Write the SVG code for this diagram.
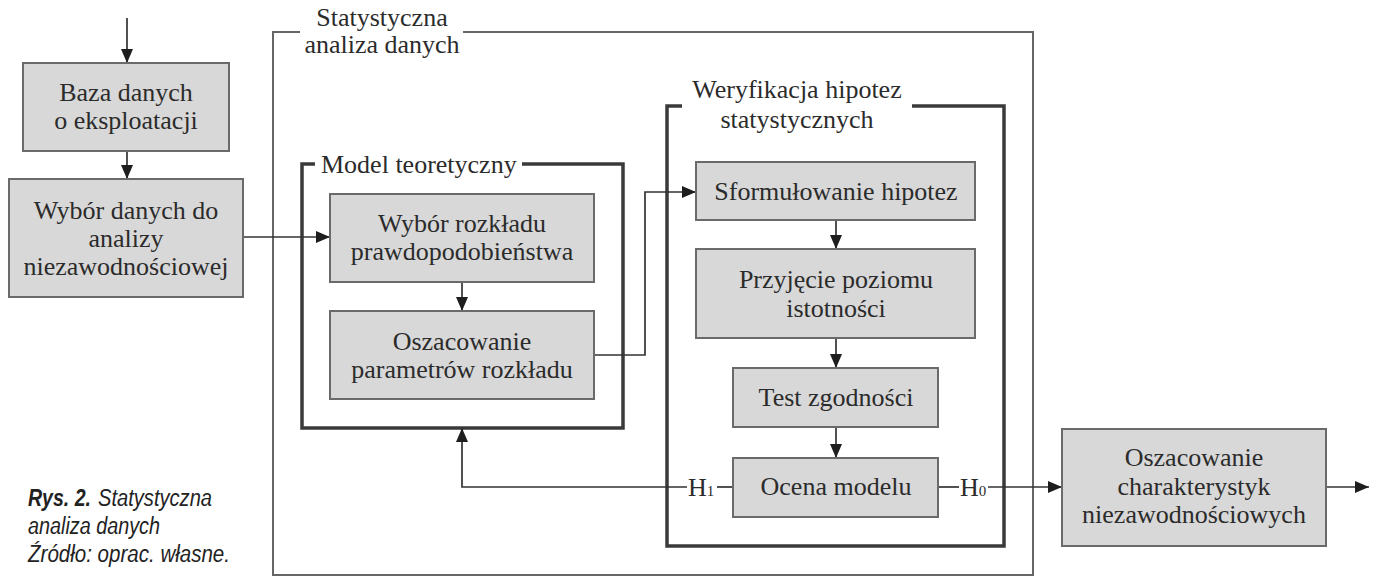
<svg xmlns="http://www.w3.org/2000/svg" width="1374" height="576" viewBox="0 0 1374 576">
<style>
.box{fill:#d8d8d8;stroke:#6a6a6a;stroke-width:2}
.t{font-family:"Liberation Serif","Times New Roman",serif;font-size:26px;fill:#2b2b2b;text-anchor:middle}
.lbl{font-family:"Liberation Serif","Times New Roman",serif;font-size:26px;fill:#2b2b2b}
.frame-outer{fill:none;stroke:#666;stroke-width:2}
.frame{fill:none;stroke:#3a3a3a;stroke-width:3.5}
.c{fill:none;stroke:#333;stroke-width:1.7}
.cap{font-family:"Liberation Sans",Arial,sans-serif;font-style:italic;font-size:23px;fill:#222}
</style>
<defs>
<marker id="ah" markerUnits="userSpaceOnUse" markerWidth="14" markerHeight="12" refX="14" refY="6" orient="auto">
<path d="M0,0 L14,6 L0,12 z" fill="#1e1e1e"/>
</marker>
</defs>
<rect width="1374" height="576" fill="#fff"/>

<g id="frame-statystyczna">
<path class="frame-outer" d="M300,32 H273 V575 H1033 V32 H463"/>
<text class="t" x="382" y="26">Statystyczna</text>
<text class="t" x="382" y="53">analiza danych</text>
</g>
<g id="frame-model">
<path class="frame" d="M315,164 H302 V428 H623 V164 H522"/>
<text class="lbl" x="321" y="173">Model teoretyczny</text>
</g>
<g id="frame-weryfikacja">
<path class="frame" d="M682,106 H667 V546 H1004 V106 H912"/>
<text class="t" x="797" y="98">Weryfikacja hipotez</text>
<text class="t" x="797" y="128">statystycznych</text>
</g>

<g id="connectors">
<line class="c" x1="127" y1="18" x2="127" y2="63" marker-end="url(#ah)"/>
<line class="c" x1="127" y1="151" x2="127" y2="179" marker-end="url(#ah)"/>
<line class="c" x1="243" y1="237" x2="330" y2="237" marker-end="url(#ah)"/>
<line class="c" x1="462" y1="282" x2="462" y2="311" marker-end="url(#ah)"/>
<path class="c" d="M594,355 H645 V192 H696" marker-end="url(#ah)"/>
<line class="c" x1="836" y1="220" x2="836" y2="249" marker-end="url(#ah)"/>
<line class="c" x1="836" y1="338" x2="836" y2="368" marker-end="url(#ah)"/>
<line class="c" x1="836" y1="427" x2="836" y2="458" marker-end="url(#ah)"/>
<line class="c" x1="733" y1="487" x2="717" y2="487"/>
<path class="c" d="M687,487 H462 V428" marker-end="url(#ah)"/>
<line class="c" x1="938" y1="487" x2="959" y2="487"/>
<line class="c" x1="988" y1="487" x2="1062" y2="487" marker-end="url(#ah)"/>
<line class="c" x1="1326" y1="487" x2="1369" y2="487" marker-end="url(#ah)"/>
<text class="lbl" x="688" y="496">H<tspan font-size="15">1</tspan></text>
<text class="lbl" x="960" y="496">H<tspan font-size="15">0</tspan></text>
</g>

<g id="baza">
<rect class="box" x="23" y="63" width="206" height="88"/>
<text class="t" x="126" y="101">Baza danych</text>
<text class="t" x="126" y="129">o eksploatacji</text>
</g>
<g id="wybor-danych">
<rect class="box" x="9" y="179" width="234" height="118"/>
<text class="t" x="126" y="219">Wybór danych do</text>
<text class="t" x="126" y="247">analizy</text>
<text class="t" x="126" y="275">niezawodnościowej</text>
</g>
<g id="wybor-rozkladu">
<rect class="box" x="330" y="194" width="264" height="88"/>
<text class="t" x="462" y="232">Wybór rozkładu</text>
<text class="t" x="462" y="260">prawdopodobieństwa</text>
</g>
<g id="oszacowanie-parametrow">
<rect class="box" x="330" y="311" width="264" height="88"/>
<text class="t" x="462" y="350">Oszacowanie</text>
<text class="t" x="462" y="378">parametrów rozkładu</text>
</g>
<g id="sformulowanie">
<rect class="box" x="696" y="162" width="279" height="58"/>
<text class="t" x="836" y="200">Sformułowanie hipotez</text>
</g>
<g id="przyjecie">
<rect class="box" x="696" y="249" width="279" height="89"/>
<text class="t" x="836" y="288">Przyjęcie poziomu</text>
<text class="t" x="836" y="317">istotności</text>
</g>
<g id="test">
<rect class="box" x="733" y="368" width="205" height="59"/>
<text class="t" x="836" y="406">Test zgodności</text>
</g>
<g id="ocena">
<rect class="box" x="733" y="458" width="205" height="59"/>
<text class="t" x="836" y="495">Ocena modelu</text>
</g>
<g id="charakterystyki">
<rect class="box" x="1062" y="429" width="264" height="117"/>
<text class="t" x="1194" y="466">Oszacowanie</text>
<text class="t" x="1194" y="495">charakterystyk</text>
<text class="t" x="1194" y="523">niezawodnościowych</text>
</g>

<g id="caption">
<text class="cap" x="28" y="506" font-weight="bold" textLength="63" lengthAdjust="spacingAndGlyphs">Rys. 2.</text>
<text class="cap" x="98" y="506" textLength="114" lengthAdjust="spacingAndGlyphs">Statystyczna</text>
<text class="cap" x="28" y="534" textLength="132" lengthAdjust="spacingAndGlyphs">analiza danych</text>
<text class="cap" x="28" y="562" textLength="202" lengthAdjust="spacingAndGlyphs">Źródło: oprac. własne.</text>
</g>
</svg>
